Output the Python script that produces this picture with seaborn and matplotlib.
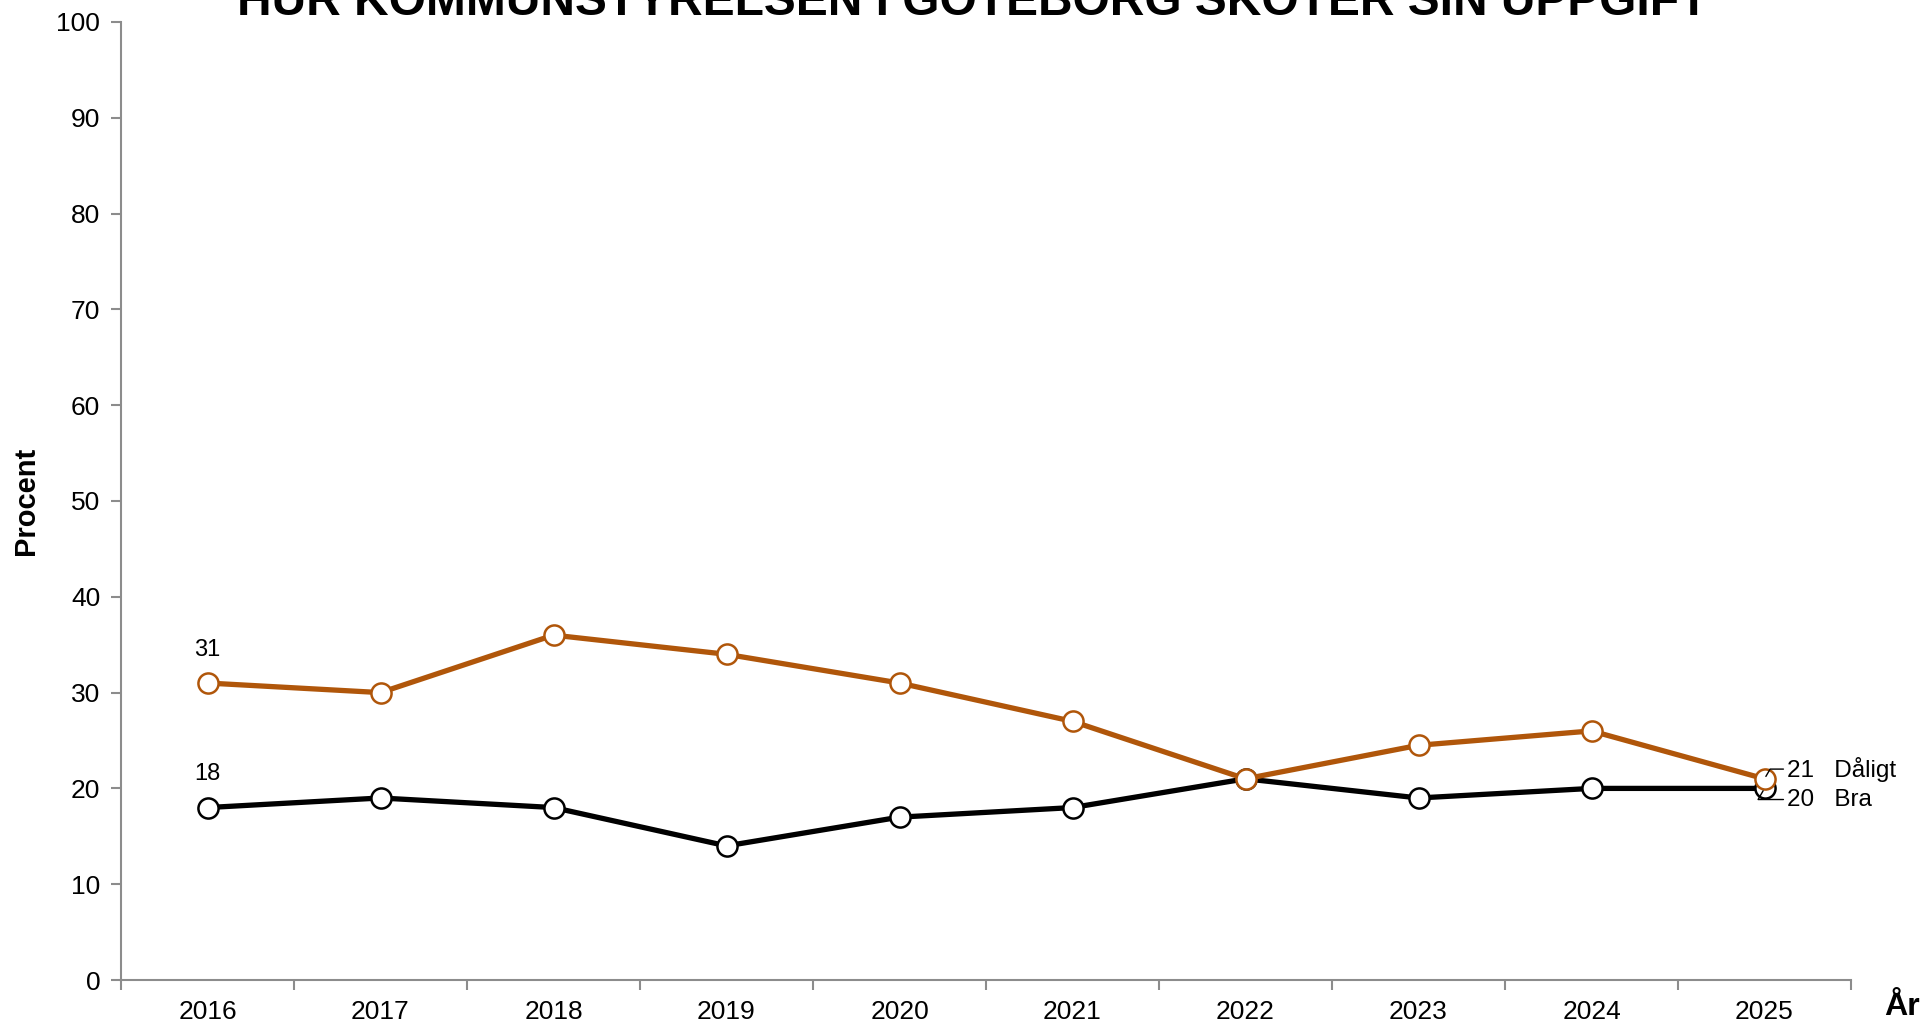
import pandas as pd
import matplotlib.pyplot as plt
import seaborn as sns

# data
years = [2016, 2017, 2018, 2019, 2020, 2021, 2022, 2023, 2024, 2025]
daligt = [31, 30, 36, 34, 31, 27, 21, 24.5, 26, 21]
bra = [18, 19, 18, 14, 17, 18, 21, 19, 20, 20]
title = "HUR KOMMUNSTYRELSEN I GÖTEBORG SKÖTER SIN UPPGIFT"

ORANGE = "#B0560A"
GRAY = "#8c8c8c"

sns.set_style("white")
plt.rcParams["font.family"] = ["Liberation Sans", "DejaVu Sans"]
plt.rcParams["text.color"] = "black"
plt.rcParams["axes.labelcolor"] = "black"
plt.rcParams["xtick.color"] = "black"
plt.rcParams["ytick.color"] = "black"

df = pd.DataFrame({"year": years, "Dåligt": daligt, "Bra": bra})

fig = plt.figure(figsize=(19.33, 10.25), dpi=100)
ax = fig.add_axes([121 / 1933, 1 - 980 / 1025, (1851 - 121) / 1933, (980 - 22) / 1025])

for col, color in [("Bra", "black"), ("Dåligt", ORANGE)]:
    sns.lineplot(data=df, x="year", y=col, ax=ax, color=color, lw=3.8,
                 marker="o", markersize=14.5, markerfacecolor="white",
                 markeredgecolor=color, markeredgewidth=1.8, zorder=3)

# first-value labels
ax.annotate(f"{daligt[0]:g}", (years[0], daligt[0]), xytext=(0, 16),
            textcoords="offset points", ha="center", va="bottom", fontsize=17)
ax.annotate(f"{bra[0]:g}", (years[0], bra[0]), xytext=(0, 16),
            textcoords="offset points", ha="center", va="bottom", fontsize=17)

# end labels with leader lines
for val, name, dy in [(daligt[-1], "Dåligt", 7), (bra[-1], "Bra", -8)]:
    ax.annotate(f"{val:g}   {name}", (years[-1], val), xytext=(16, dy),
                textcoords="offset points", ha="left", va="center", fontsize=17.5,
                arrowprops=dict(arrowstyle="-", color="black", lw=1,
                                shrinkA=0, shrinkB=2,
                                connectionstyle="angle,angleA=0,angleB=60,rad=0"),
                annotation_clip=False, zorder=5)

ax.set_xlim(years[0] - 0.5, years[-1] + 0.5)
ax.set_ylim(0, 100)
ax.set_yticks(range(0, 101, 10))
ax.set_xticks(years)
ax.set_xticks([y - 0.5 for y in years] + [years[-1] + 0.5], minor=True)
ax.tick_params(axis="x", which="major", bottom=False, labelsize=19, pad=11)
ax.tick_params(axis="x", which="minor", bottom=True, length=7, width=1.5, color=GRAY)
ax.tick_params(axis="y", left=True, length=7, width=1.5, color=GRAY, labelsize=19, pad=8)

for s in ["top", "right"]:
    ax.spines[s].set_visible(False)
for s in ["left", "bottom"]:
    ax.spines[s].set_color(GRAY)
    ax.spines[s].set_linewidth(1.5)

ax.set_xlabel("")
ax.set_ylabel("Procent", fontsize=21, fontweight="bold", labelpad=12)
fig.text(1902 / 1933, 1 - 1007 / 1025, "År", fontsize=23, fontweight="bold",
         ha="center", va="center")
fig.text(0.503, 1 - 15 / 1025, title, fontsize=34.5, fontweight="bold",
         ha="center", va="baseline")

plt.savefig("out.png", dpi=100)
plt.close()
